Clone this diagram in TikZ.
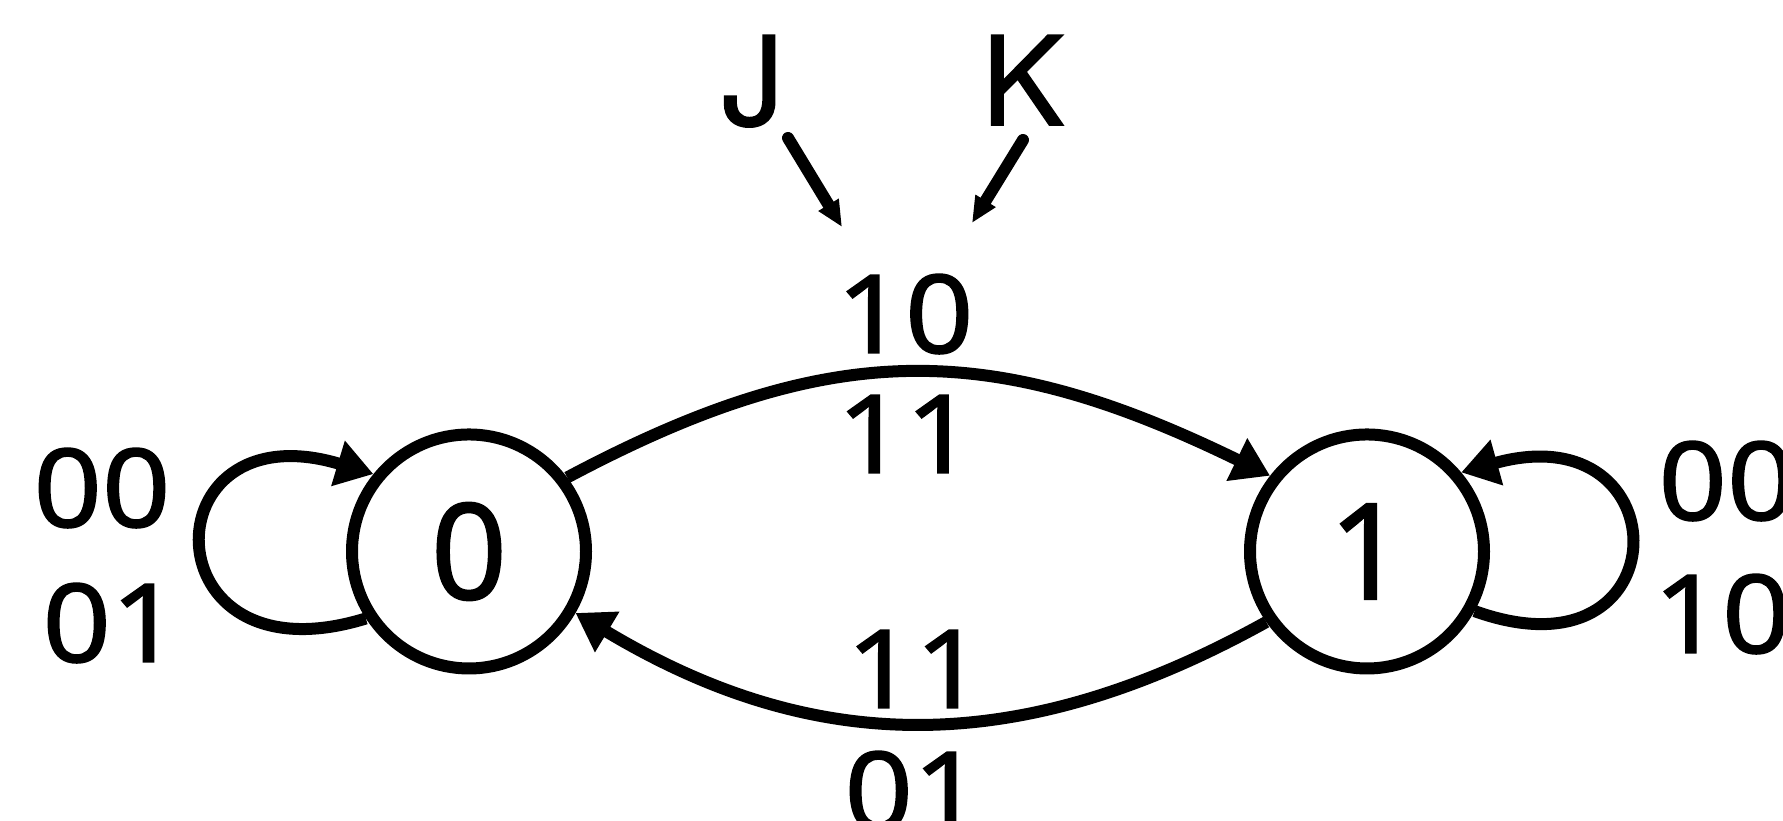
\documentclass[tikz,border=0pt]{standalone}
\usepackage{fontspec}
\setmainfont{TeX Gyre Heros}[FakeBold=1.3]
\newfontfamily\digitfont{Noto Sans}[FakeBold=1.3]
\newfontfamily\lblfont{Noto Sans}[FakeBold=1.3, FakeStretch=1.1]
\usetikzlibrary{arrows.meta}
\begin{document}
\begin{tikzpicture}[
  line width=0.12cm,
  state/.style={circle, draw, minimum size=2.34cm, inner sep=0pt, font=\digitfont\fontsize{38}{40}\selectfont},
  lbl/.style={anchor=base, inner sep=0pt, font=\lblfont\fontsize{31}{33}\selectfont},
  jk/.style={anchor=base, inner sep=0pt, font=\fontsize{35}{37}\selectfont},
  arr/.style={-{Triangle[length=0.37cm,width=0.45cm]}},
  sarr/.style={line cap=round, -{Triangle[length=0.26cm,width=0.22cm]}}
]
\useasboundingbox (0,0) rectangle (17.83,8.21);
\node[state] (n0) at (4.69,2.695) {0};
\node[state] (n1) at (13.67,2.695) {1};
\draw[arr] (n0.37) .. controls +(28:3.0) and +(154:3.1) .. (n1.142);
\draw[arr] (n1.215) .. controls +(209:2.78) and +(329:2.83) .. (n0.330);
\draw[arr] (n0.213) .. controls (1.475,1.35) and (1.475,4.15) .. (n0.141);
\draw[arr] (n1.331) .. controls (16.83,1.35) and (16.83,4.1) .. (n1.40);
\node[lbl] (t10) at (9.05,4.68) {10};
\node[lbl] (t11) at (9.055,3.48) {11};
\node[lbl] (b11) at (9.15,1.13) {11};
\node[lbl] (b01) at (9.13,-0.09) {01};
\node[lbl] (l00) at (1.02,2.94) {00};
\node[lbl] (l01) at (1.11,1.59) {01};
\node[lbl] (r00) at (17.27,3.01) {00};
\node[lbl] (r10) at (17.22,1.68) {10};
\node[jk] (J) at (7.53,6.96) {J};
\node[jk] (K) at (10.23,6.96) {K};
\coordinate (js) at (7.88,6.83);
\coordinate (je) at (8.42,5.94);
\coordinate (ks) at (10.23,6.81);
\coordinate (ke) at (9.72,5.98);
\draw[sarr] (js) -- (je);
\draw[sarr] (ks) -- (ke);
\end{tikzpicture}
\end{document}
